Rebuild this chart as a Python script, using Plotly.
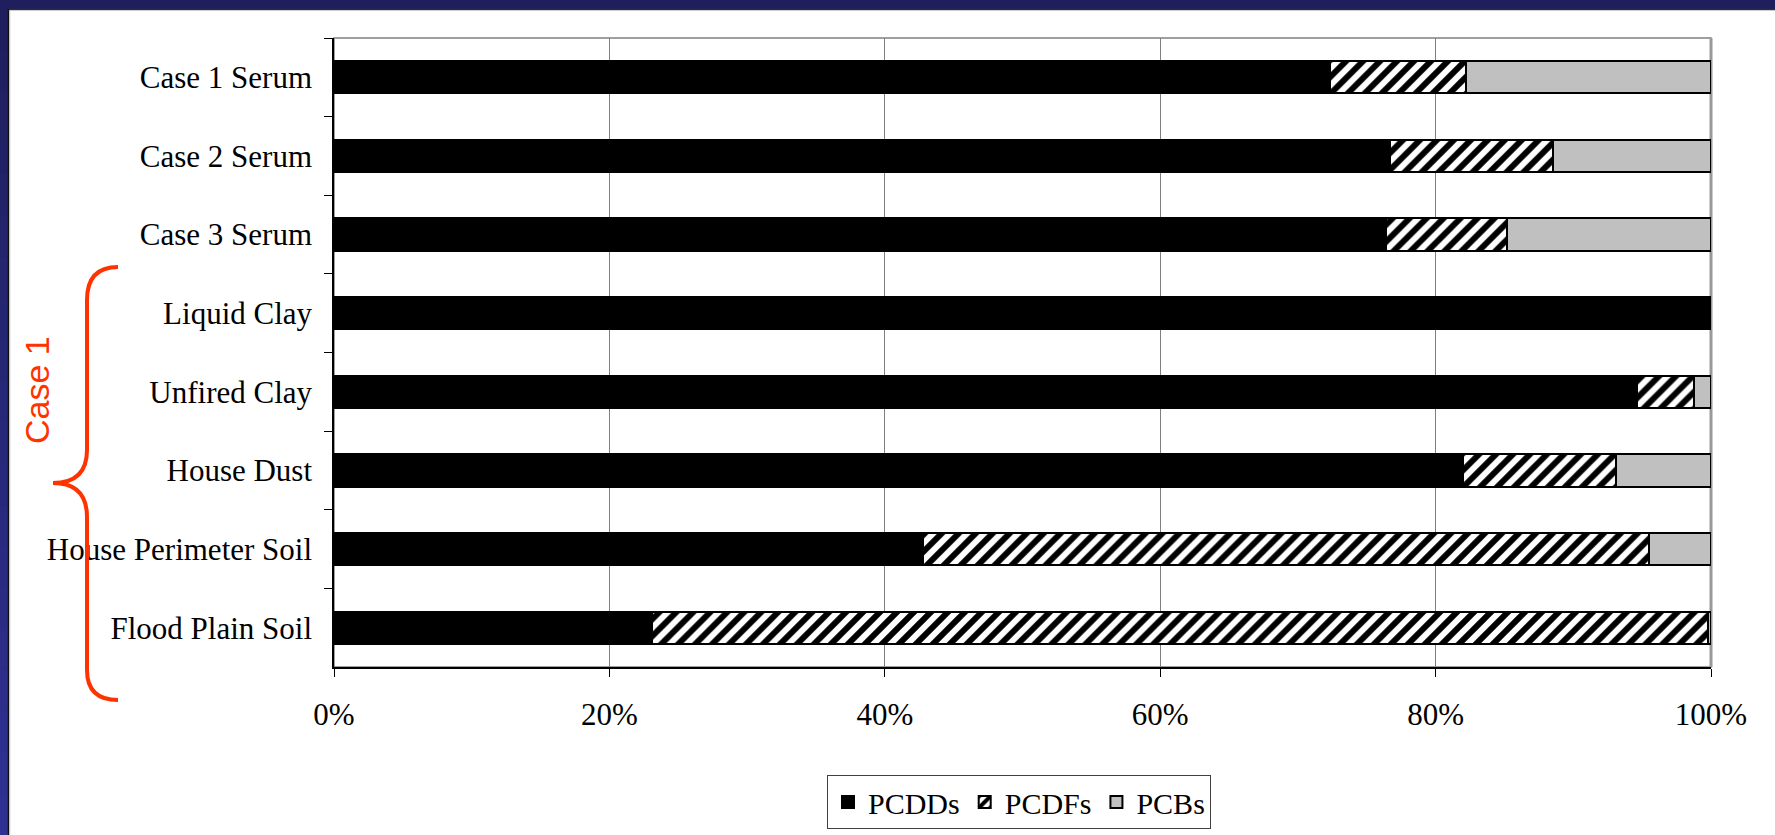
import plotly.graph_objects as go

categories = ["Case 1 Serum", "Case 2 Serum", "Case 3 Serum", "Liquid Clay",
              "Unfired Clay", "House Dust", "House Perimeter Soil", "Flood Plain Soil"]
pcdds = [72.3, 76.7, 76.4, 100.0, 94.6, 82.0, 42.8, 23.1]
pcdfs = [9.9, 11.8, 8.8, 0.0, 4.2, 11.1, 52.7, 76.7]
pcbs = [17.8, 11.5, 14.8, 0.0, 1.2, 6.9, 4.5, 0.2]
x_ticks = [0, 20, 40, 60, 80, 100]
x_tick_labels = ["0%", "20%", "40%", "60%", "80%", "100%"]

W, H = 1775, 835
ML, MR, MT, MB = 334, 64, 38, 168
PW, PH = W - ML - MR, H - MT - MB


def px(x):
    return (x - ML) / PW


def py(y):
    return 1 - (y - MT) / PH


SERIF = "Liberation Serif, Times New Roman, serif"
SANS = "Liberation Sans, Arial, sans-serif"

fig = go.Figure()
fig.add_trace(go.Bar(
    y=categories, x=pcdds, name="PCDDs", orientation="h",
    marker=dict(color="black", line=dict(color="black", width=2)),
))
fig.add_trace(go.Bar(
    y=categories, x=pcdfs, name="PCDFs", orientation="h",
    marker=dict(color="white", line=dict(color="black", width=2),
                pattern=dict(shape="/", fgcolor="black", bgcolor="white",
                             fgopacity=1, size=12, solidity=0.5)),
))
fig.add_trace(go.Bar(
    y=categories, x=pcbs, name="PCBs", orientation="h",
    marker=dict(color="#c0c0c0", line=dict(color="black", width=2)),
))

shapes = []
# dark frame: top band and left band with gradient
shapes.append(dict(type="rect", xref="paper", yref="paper",
                   x0=px(0), x1=px(W), y0=py(0), y1=py(9),
                   fillcolor="#1f1f5e", line=dict(width=0), layer="below"))
c0 = (0x1f, 0x1f, 0x5e)
c1 = (0x2e, 0x31, 0x92)
nb = 20
for i in range(nb):
    t = i / (nb - 1)
    col = "rgb(%d,%d,%d)" % tuple(int(round(a + (b - a) * t)) for a, b in zip(c0, c1))
    shapes.append(dict(type="rect", xref="paper", yref="paper",
                       x0=px(0), x1=px(8), y0=py(9 + (H - 9) * i / nb),
                       y1=py(9 + (H - 9) * (i + 1) / nb + 1),
                       fillcolor=col, line=dict(width=0), layer="below"))
shapes.append(dict(type="line", xref="paper", yref="paper",
                   x0=px(8), x1=px(W), y0=py(9.5), y1=py(9.5),
                   line=dict(color="#303030", width=1.5), layer="below"))
shapes.append(dict(type="line", xref="paper", yref="paper",
                   x0=px(8.5), x1=px(8.5), y0=py(9), y1=py(H),
                   line=dict(color="#101010", width=1.5), layer="below"))
shapes.append(dict(type="line", xref="paper", yref="paper",
                   x0=px(9.8), x1=px(9.8), y0=py(10), y1=py(H),
                   line=dict(color="#c8c8c8", width=1), layer="below"))
# plot area border (grey)
shapes.append(dict(type="rect", xref="paper", yref="paper", x0=0, x1=1, y0=0, y1=1,
                   line=dict(color="#808080", width=1.5), layer="below"))
shapes.append(dict(type="line", xref="paper", yref="paper", x0=1, x1=1, y0=0, y1=1,
                   line=dict(color="#999999", width=3), layer="below"))

# brace
pts = [(118, 267), (87, 267), (87, 300), (87, 450), (87, 483), (53, 483),
       (87, 483), (87, 517), (87, 670), (87, 700), (118, 700)]
P = [(px(a), py(b)) for a, b in pts]
path = ("M %f,%f Q %f,%f %f,%f L %f,%f Q %f,%f %f,%f Q %f,%f %f,%f L %f,%f Q %f,%f %f,%f" %
        tuple(v for p in P for v in p))
shapes.append(dict(type="path", xref="paper", yref="paper", path=path,
                   line=dict(color="#ff3300", width=4)))

fig.update_layout(
    width=W, height=H,
    margin=dict(l=ML, r=MR, t=MT, b=MB, pad=0, autoexpand=False),
    paper_bgcolor="white", plot_bgcolor="white",
    barmode="stack", bargap=0.59,
    showlegend=True,
    legend=dict(orientation="h", x=px(1019), xanchor="center", y=py(802), yanchor="middle",
                bordercolor="#404040", borderwidth=1, bgcolor="white",
                font=dict(family=SERIF, size=30, color="black"),
                traceorder="normal", itemwidth=30),
    xaxis=dict(range=[0, 100], tickvals=x_ticks, ticktext=x_tick_labels,
               showgrid=True, gridcolor="#808080", gridwidth=1,
               ticks="outside", ticklen=8, tickcolor="black", tickwidth=1,
               showline=True, linecolor="black", linewidth=1.5, zeroline=False,
               tickfont=dict(family=SERIF, size=31, color="black"),
               ticklabelstandoff=11, fixedrange=True, automargin=False),
    yaxis=dict(type="category", categoryorder="array", categoryarray=categories,
               autorange="reversed", ticks="outside", tickson="boundaries",
               ticklen=8, tickcolor="black", tickwidth=1,
               showline=True, linecolor="black", linewidth=1.5, showgrid=False,
               tickfont=dict(family=SERIF, size=31, color="black"),
               ticklabelstandoff=14, fixedrange=True, automargin=False),
    shapes=shapes,
    annotations=[dict(text="Case 1", xref="paper", yref="paper", x=px(37), y=py(390),
                      xanchor="center", yanchor="middle", textangle=-90, showarrow=False,
                      font=dict(family=SANS, size=34, color="#ff3300"))],
)

fig.write_html("out.html",
               post_script="document.body.style.margin='0px';document.body.style.overflow='hidden';",
               config={"displayModeBar": False})
